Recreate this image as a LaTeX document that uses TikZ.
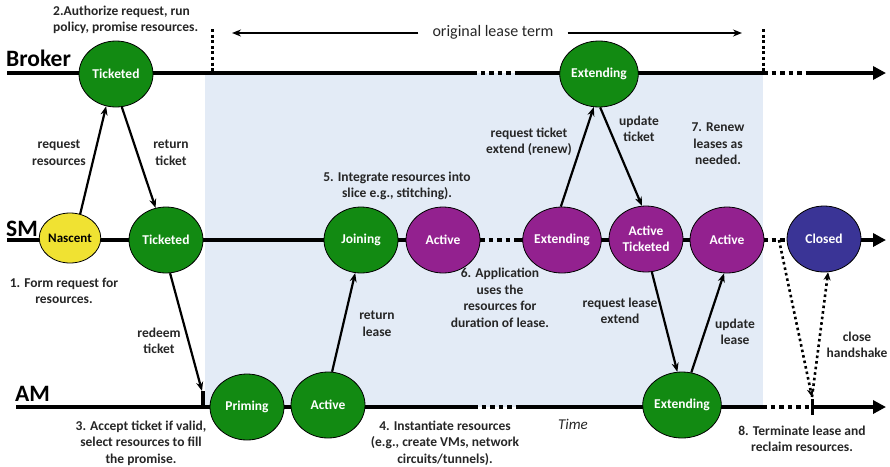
\documentclass[tikz,border=0pt]{standalone}
\usepackage{fontspec}
\setmainfont{Carlito}
\usetikzlibrary{arrows.meta,shapes.geometric}
\definecolor{ngreen}{RGB}{18,138,18}
\definecolor{npurple}{RGB}{147,33,143}
\definecolor{nblue}{RGB}{58,52,150}
\definecolor{nyellow}{RGB}{240,226,50}
\definecolor{leaseblue}{RGB}{227,235,246}
\definecolor{txt}{RGB}{38,38,38}
\begin{document}
\begin{tikzpicture}[x=1pt,y=-1pt,
  st/.style={ellipse,draw=black,line width=0.8pt,minimum width=74pt,minimum height=66pt,inner sep=0pt,
    font=\fontsize{13.5}{16}\selectfont\bfseries,text=white,align=center},
  gst/.style={st,fill=ngreen},
  pst/.style={st,fill=npurple},
  bst/.style={st,fill=nblue},
  yst/.style={st,fill=nyellow,text=black,minimum width=54pt,minimum height=50pt,font=\fontsize{13}{15}\selectfont\bfseries},
  lbl/.style={font=\fontsize{13.5}{16.5}\selectfont\bfseries,text=txt,align=center,inner sep=0pt},
  actor/.style={font=\fontsize{23.5}{26}\selectfont\bfseries,text=black,inner sep=0pt,anchor=west},
  tl/.style={line width=4.5pt,black},
  tldot/.style={line width=4.5pt,black,dash pattern=on 4.5pt off 4pt},
  tlend/.style={tl,-{Triangle[length=13pt,width=13pt]}},
  msg/.style={line width=2.2pt,black,-{Stealth[length=9pt,width=7pt]}},
  dmsg/.style={line width=2.6pt,black,dash pattern=on 2.6pt off 3pt,-{Stealth[length=8pt,width=7pt]}},
  vdot/.style={line width=3pt,black,dash pattern=on 3pt off 2.6pt},
]
\useasboundingbox (0,0) rectangle (890,466);
\fill[leaseblue] (205,73) rectangle (763,407);

% time lines
\draw[tl] (7,73) -- (472,73);
\draw[tldot] (472,73) -- (517,73);
\draw[tl] (517,73) -- (763,73);
\draw[tldot] (763,73) -- (808,73);
\draw[tlend] (808,73) -- (886,73);

\draw[tl] (7,240) -- (480,240);
\draw[tldot] (480,240) -- (515,240);
\draw[tl] (515,240) -- (763,240);
\draw[tldot] (763,240) -- (790,240);
\draw[tlend] (790,240) -- (886,240);

\draw[tl] (16,407) -- (473,407);
\draw[tldot] (473,407) -- (520,407);
\draw[tl] (520,407) -- (762,407);
\draw[tldot] (762,407) -- (812,407);
\draw[tlend] (812,407) -- (886,407);

\draw[line width=4pt] (203,391) -- (203,407);
\draw[line width=3pt] (812,399) -- (812,415);

\draw[vdot] (212,29) -- (212,71);
\draw[vdot] (763,29) -- (763,71);

% lease term
\node[font=\fontsize{16}{18}\selectfont,text=txt,inner xsep=14pt,inner ysep=0pt] (olt) at (493,32) {original lease term};
\coordinate (oltL) at (232,33);
\coordinate (oltR) at (742,33);
\draw[line width=1.6pt,-{Stealth[length=9pt,width=7pt]}] (olt.west |- oltL) -- (oltL);
\draw[line width=1.6pt,-{Stealth[length=9pt,width=7pt]}] (olt.east |- oltR) -- (oltR);

% actors
\node[actor] (broker) at (6,58) {Broker};
\node[actor] (sm) at (6,229) {SM};
\node[actor] (am) at (15,394) {AM};

% states
\node[gst] (bt) at (116,74) {Ticketed};
\node[gst] (be) at (599,74) {Extending};
\node[yst] (nascent) at (70,238) {Nascent};
\node[gst] (st) at (166,240) {Ticketed};
\node[gst] (join) at (361,240) {Joining};
\node[pst] (act1) at (443,240) {Active};
\node[pst] (ext1) at (562,240) {Extending};
\node[pst] (at) at (646,239) {Active\\Ticketed};
\node[pst] (act2) at (727,240) {Active};
\node[bst] (closed) at (824,239) {Closed};
\node[gst] (prim) at (247,407) {Priming};
\node[gst] (act3) at (328,405) {Active};
\node[gst] (ext2) at (682,405) {Extending};

% messages
\coordinate (redeem) at (202,391);
\coordinate (smend) at (779,240);
\coordinate (term) at (812,397);
\draw[msg] (nascent.67) -- (bt.253);
\draw[msg] (bt.-80) -- (st.108);
\draw[msg] (st.-83) -- (redeem);
\draw[msg] (act3.83) -- (join.260);
\draw[msg] (ext1.92) -- (be.261);
\draw[msg] (be.-88) -- (at.97);
\draw[msg] (at.-80) -- (ext2.98);
\draw[msg] (ext2.74) -- (act2.265);
\draw[dmsg] (smend) -- (term);
\draw[dmsg] (term) -- (closed.-83);

% labels
\node[lbl,align=left,anchor=west] (l2) at (53,20) {2.Authorize request, run\\policy, promise resources.};
\node[lbl] (lreq) at (59,153) {request\\resources};
\node[lbl] (lret) at (171,153) {return\\ticket};
\node[lbl] (l1) at (64,291) {1. Form request for\\resources.};
\node[lbl] (lred) at (159,341) {redeem\\ticket};
\node[lbl] (l3) at (141,443) {3. Accept ticket if valid,\\select resources to fill\\the promise.};
\node[lbl] (l5) at (397,186) {5. Integrate resources into\\slice e.g., stitching).};
\node[lbl] (lrte) at (529,142) {request ticket\\extend (renew)};
\node[lbl] (lupt) at (639,129) {update\\ticket};
\node[lbl] (l7) at (718,144) {7. Renew\\leases as\\needed.};
\node[lbl] (l6) at (500,298) {6. Application\\uses the\\resources for\\duration of lease.};
\node[lbl] (lrl) at (377,324) {return\\lease};
\node[lbl] (l4) at (445,443) {4. Instantiate resources\\(e.g., create VMs, network\\circuits/tunnels).};
\node[font=\fontsize{15}{17}\selectfont\itshape,text=txt,inner sep=0pt] (time) at (573,424) {Time};
\node[lbl] (lrle) at (620,311) {request lease\\extend};
\node[lbl] (lupl) at (735,332) {update\\lease};
\node[lbl] (lclose) at (857,345) {close\\handshake};
\node[lbl] (l8) at (802,439) {8. Terminate lease and\\reclaim resources.};
\end{tikzpicture}
\end{document}
